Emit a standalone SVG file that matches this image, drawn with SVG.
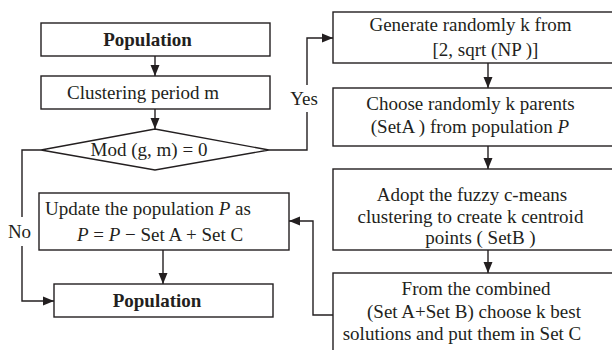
<svg xmlns="http://www.w3.org/2000/svg" width="612" height="350" viewBox="0 0 612 350">
  <style>
    .box { fill: #ffffff; stroke: #231f20; stroke-width: 1.4; }
    .wire { fill: none; stroke: #231f20; stroke-width: 1.4; }
    text { font-family: "Liberation Serif", "Times New Roman", "DejaVu Serif", serif; font-size: 19px; fill: #231f20; text-anchor: middle; }
    .b { font-weight: bold; }
    .i { font-style: italic; }
  </style>
  <defs>
    <marker id="arrow" markerUnits="userSpaceOnUse" markerWidth="12" markerHeight="10" refX="11" refY="5" orient="auto">
      <path d="M0,0.5 L11,5 L0,9.5 Z" fill="#231f20"/>
    </marker>
  </defs>
  <rect width="612" height="350" fill="#ffffff"/>

  <g font-family="Liberation Serif, Times New Roman, serif">
  <g id="connectors">
    <line class="wire" x1="155" y1="56" x2="155" y2="76" marker-end="url(#arrow)"/>
    <line class="wire" x1="155" y1="109" x2="155" y2="129" marker-end="url(#arrow)"/>
    <line class="wire" x1="488" y1="63" x2="488" y2="88" marker-end="url(#arrow)"/>
    <line class="wire" x1="488" y1="146" x2="488" y2="169" marker-end="url(#arrow)"/>
    <line class="wire" x1="488" y1="250" x2="488" y2="273" marker-end="url(#arrow)"/>
    <line class="wire" x1="163" y1="250" x2="163" y2="284" marker-end="url(#arrow)"/>
    <!-- No branch -->
    <polyline class="wire" points="41,150 22,150 22,217"/>
    <polyline class="wire" points="22,246 22,301 54,301" marker-end="url(#arrow)"/>
    <!-- Yes branch -->
    <polyline class="wire" points="269,150 307,150 307,112"/>
    <polyline class="wire" points="307,85 307,38 333,38" marker-end="url(#arrow)"/>
    <!-- feedback to update -->
    <polyline class="wire" points="333,315 313,315 313,221 289,221" marker-end="url(#arrow)"/>
    <text x="19.5" y="238">No</text>
    <text x="304" y="105">Yes</text>
  </g>

  <g id="population-start">
    <rect class="box" x="41" y="23" width="229" height="33"/>
    <text class="b" x="147.5" y="46">Population</text>
  </g>

  <g id="clustering-period">
    <rect class="box" x="41" y="76" width="229" height="33"/>
    <text x="143" y="99">Clustering period m</text>
  </g>

  <g id="mod-check">
    <polygon class="box" points="41,150 155,129 269,150 155,170"/>
    <text x="149" y="156">Mod (g, m) = 0</text>
  </g>

  <g id="update-population">
    <rect class="box" x="39" y="193" width="250" height="57"/>
    <text x="148" y="215">Update the population <tspan class="i">P</tspan> as</text>
    <text x="160" y="241"><tspan class="i">P</tspan> = <tspan class="i">P</tspan> − Set A +  Set C</text>
  </g>

  <g id="population-end">
    <rect class="box" x="54" y="284" width="219" height="33"/>
    <text class="b" x="157" y="307">Population</text>
  </g>

  <g id="generate-k">
    <rect class="box" x="333" y="12" width="290" height="51"/>
    <text x="470.5" y="31">Generate randomly k from</text>
    <text x="485.5" y="56">[2, sqrt (NP )]</text>
  </g>

  <g id="choose-parents">
    <rect class="box" x="333" y="88" width="290" height="58"/>
    <text x="470.5" y="110">Choose randomly k parents</text>
    <text x="470" y="133">(SetA ) from population <tspan class="i">P</tspan></text>
  </g>

  <g id="fuzzy-cmeans">
    <rect class="box" x="333" y="169" width="290" height="81"/>
    <text x="472" y="201">Adopt the fuzzy c-means</text>
    <text x="470.5" y="223">clustering to create k centroid</text>
    <text x="480.5" y="244">points ( SetB )</text>
  </g>

  <g id="select-best">
    <rect class="box" x="333" y="273" width="290" height="90"/>
    <text x="476" y="295">From the combined</text>
    <text x="474" y="318">(Set A+Set B) choose k best</text>
    <text x="462" y="340">solutions and put them in Set C</text>
  </g>
  </g>
</svg>
